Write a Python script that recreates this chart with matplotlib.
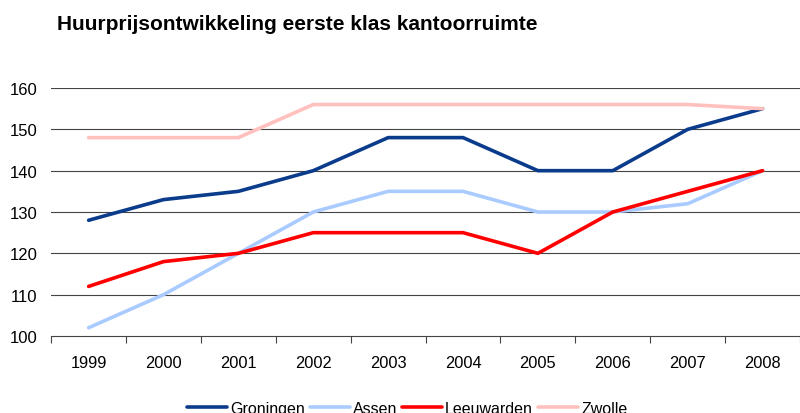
import matplotlib
matplotlib.use("Agg")
import matplotlib.pyplot as plt
import numpy as np

plt.rcParams['font.family'] = ['Liberation Sans', 'DejaVu Sans']

years = ['1999', '2000', '2001', '2002', '2003', '2004', '2005', '2006', '2007', '2008']
groningen = [128, 133, 135, 140, 148, 148, 140, 140, 150, 155]
assen = [102, 110, 120, 130, 135, 135, 130, 130, 132, 140]
leeuwarden = [112, 118, 120, 125, 125, 125, 120, 130, 135, 140]
zwolle = [148, 148, 148, 156, 156, 156, 156, 156, 156, 155]
series_names = ['Groningen', 'Assen', 'Leeuwarden', 'Zwolle']
colors = ['#0B3C8C', '#AACBFF', '#FF0000', '#FFC0BE']
yticks = [100, 110, 120, 130, 140, 150, 160]

fig = plt.figure(figsize=(8.0, 4.14), dpi=100)
ax = fig.add_axes([0.064, 0.186, 0.936, 0.599])

x = np.arange(len(years))
for vals, name, c in zip([groningen, assen, leeuwarden, zwolle], series_names, colors):
    ax.plot(x, vals, color=c, lw=2.6, label=name, solid_capstyle='round', solid_joinstyle='round')

ax.set_xlim(-0.5, len(years) - 0.5)
ax.set_ylim(100, 160)
ax.set_yticks(yticks)
ax.set_yticklabels([str(t) for t in yticks], fontsize=12)
ax.tick_params(axis='y', length=0, pad=10)
for t in yticks[1:]:
    ax.axhline(t, color='#444444', lw=0.8, zorder=0)

ax.set_xticks(np.arange(-0.5, len(years)), minor=False)
ax.set_xticklabels([])
ax.set_xticks(x, minor=True)
ax.set_xticklabels(years, minor=True, fontsize=11.8)
ax.tick_params(axis='x', which='major', length=5, direction='out', color='#444444')
ax.tick_params(axis='x', which='minor', length=0, pad=14)

for s in ['top', 'right', 'left']:
    ax.spines[s].set_visible(False)
ax.spines['bottom'].set_color('#444444')
ax.spines['bottom'].set_linewidth(0.8)

fig.text(0.071, 0.94, 'Huurprijsontwikkeling eerste klas kantoorruimte',
         fontsize=15, fontweight='bold', ha='left', va='center')

fig.legend(loc='center', bbox_to_anchor=(0.509, 0.012), ncol=4, frameon=False,
           fontsize=11.5, handlelength=2.5, handletextpad=0.2, columnspacing=0.3)

fig.savefig('out.png', dpi=100)
